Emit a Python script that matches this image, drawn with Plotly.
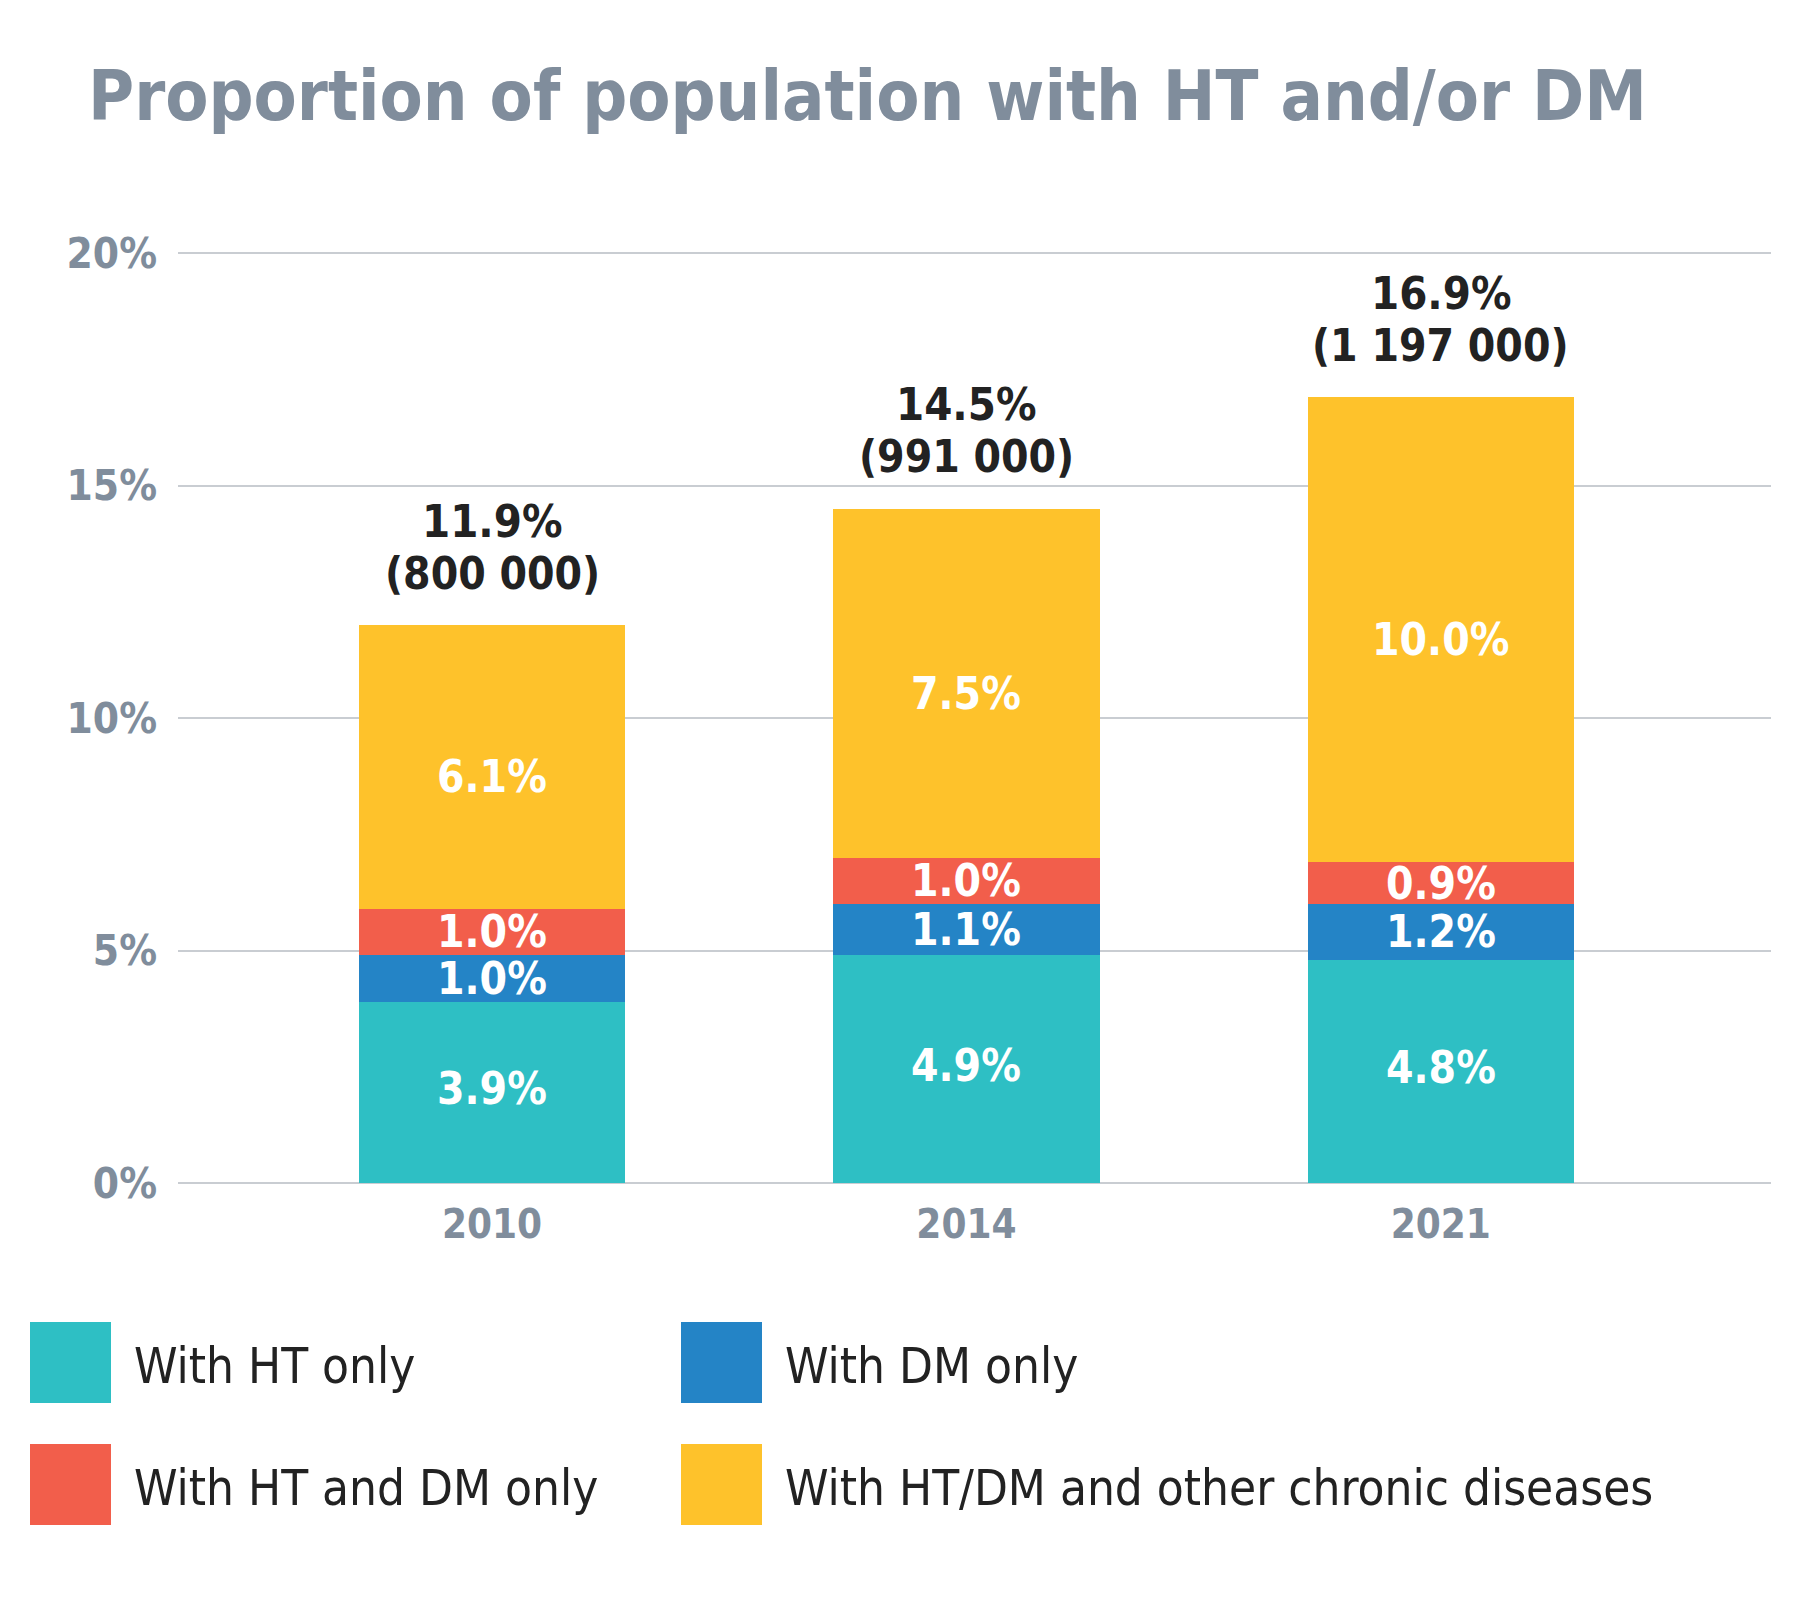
import plotly.graph_objects as go

years = ["2010", "2014", "2021"]
series_names = ["With HT only", "With DM only", "With HT and DM only",
                "With HT/DM and other chronic diseases"]
ht_only = [3.9, 4.9, 4.8]
dm_only = [1.0, 1.1, 1.2]
ht_dm_only = [1.0, 1.0, 0.9]
ht_dm_other = [6.1, 7.5, 10.0]
total_pct = ["11.9%", "14.5%", "16.9%"]
total_pop = ["800 000", "991 000", "1 197 000"]
y_ticks = [0, 5, 10, 15, 20]

colors = ["#2EBFC4", "#2484C6", "#F25E4B", "#FEC22B"]
label_shift = [4, 0, 0, -10]  # per-series label nudge in px
series_values = [ht_only, dm_only, ht_dm_only, ht_dm_other]

GRAY = "#808D9C"
COND = "DejaVu Sans Condensed, Liberation Sans Narrow, Roboto, sans-serif"

W, H = 1800, 1598
OFF = 8  # page body margin
PL, PR, PT, PB = 178, 1771, 230, 1183
ML = PL - OFF
MR = W - (PR - OFF)
MT = PT - OFF
MB = H - (PB - OFF)
PW = W - ML - MR
PH = H - MT - MB


def px_to_paper(x, y):
    return (x - OFF - ML) / PW, (H - MB - (y - OFF)) / PH


fig = go.Figure()
for name, vals, col in zip(series_names, series_values, colors):
    fig.add_trace(go.Bar(x=years, y=vals, name=name, marker=dict(color=col, line=dict(width=0)),
                         width=0.561, showlegend=False, hoverinfo="skip"))

annotations = []
cum = [0.0] * len(years)
for vals, sh in zip(series_values, label_shift):
    for i, v in enumerate(vals):
        annotations.append(dict(x=i, y=cum[i] + v / 2, xref="x", yref="y",
                                text=f"{v:.1f}%", showarrow=False, yshift=sh,
                                font=dict(family=COND, size=44, color="white", weight="bold")))
        cum[i] += v
for i in range(len(years)):
    annotations.append(dict(x=i, y=cum[i], xref="x", yref="y", yanchor="middle",
                            yshift=52, text=f"({total_pop[i]})", showarrow=False,
                            font=dict(family=COND, size=44, color="#222222", weight="bold")))
    annotations.append(dict(x=i, y=cum[i], xref="x", yref="y", yanchor="middle",
                            yshift=104, text=total_pct[i], showarrow=False,
                            font=dict(family=COND, size=45, color="#222222", weight="bold")))

leg_pos = [(30, 1322), (681, 1322), (30, 1444), (681, 1444)]
shapes = []
for (lx, ly), name, col in zip(leg_pos, series_names, colors):
    x0, y1 = px_to_paper(lx, ly)
    x1, y0 = px_to_paper(lx + 81, ly + 81)
    shapes.append(dict(type="rect", xref="paper", yref="paper", x0=x0, x1=x1, y0=y0, y1=y1,
                       fillcolor=col, line=dict(width=0)))
    tx, ty = px_to_paper(lx + 102, ly + 44)
    annotations.append(dict(xref="paper", yref="paper", x=tx, y=ty,
                            xanchor="left", yanchor="middle", showarrow=False, text=name,
                            font=dict(family=COND, size=49, color="#222222")))

fig.update_layout(
    width=W, height=H,
    barmode="stack",
    plot_bgcolor="white", paper_bgcolor="white",
    margin=dict(l=ML, r=MR, t=MT, b=MB),
    title=dict(text="Proportion of population with HT and/or DM", x=(88 - OFF) / W, xanchor="left",
               y=1 - (95 - OFF) / H, yanchor="middle",
               font=dict(family=COND, size=70, color=GRAY, weight="bold")),
    annotations=annotations,
    shapes=shapes,
    showlegend=False,
)
fig.update_xaxes(type="category", range=[-0.662, 2.696], showgrid=False, showline=False, ticks="",
                 automargin=False,
                 tickfont=dict(family=COND, size=40, color=GRAY, weight="bold"),
                 ticklabelstandoff=14)
fig.update_yaxes(range=[0, 20.5], tickvals=y_ticks, ticktext=[f"{t}%" for t in y_ticks],
                 automargin=False,
                 showgrid=True, gridcolor="#C9CDD2", gridwidth=1.5, zeroline=True,
                 zerolinecolor="#C9CDD2", zerolinewidth=1.5, showline=False, ticks="",
                 tickfont=dict(family=COND, size=42, color=GRAY, weight="bold"),
                 ticklabelstandoff=20)

fig.write_html("out.html")
